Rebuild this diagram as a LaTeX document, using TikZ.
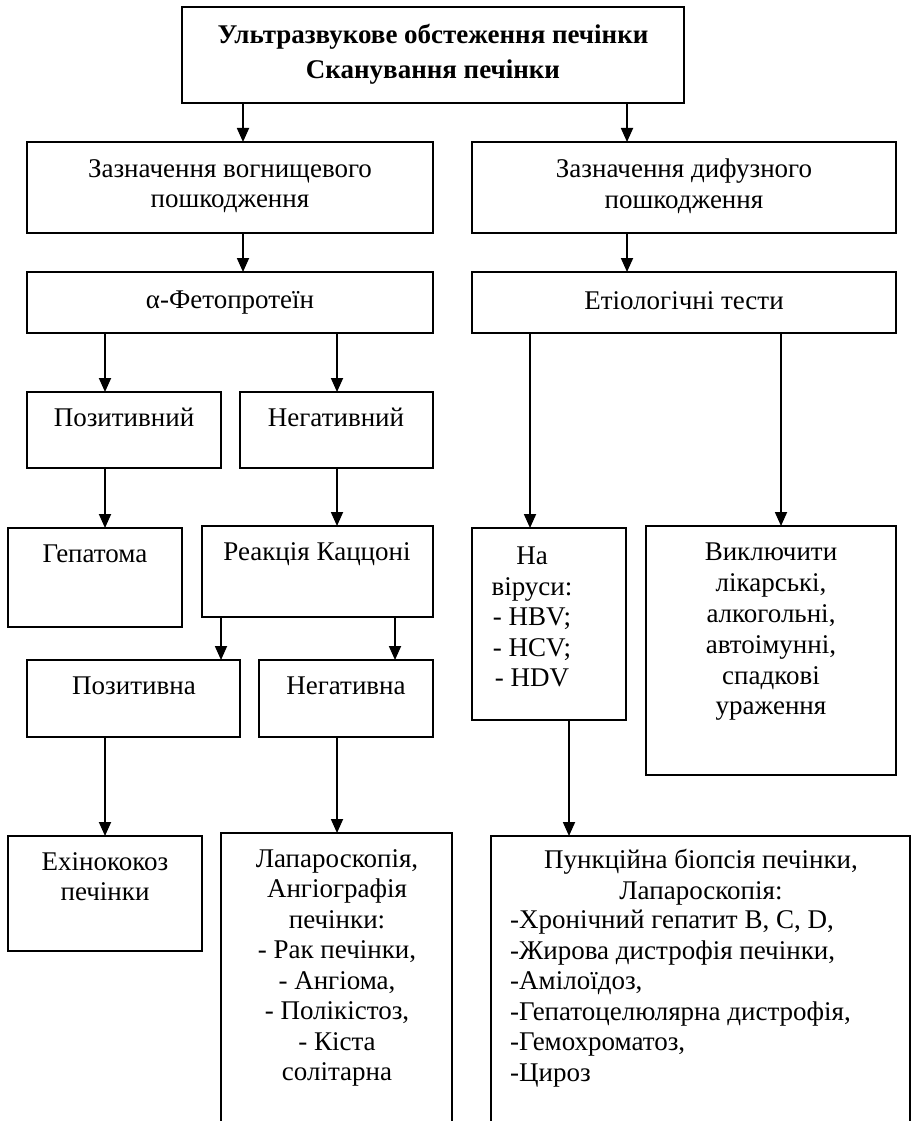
\documentclass[tikz,border=0pt]{standalone}
\usepackage{fontspec}
\setmainfont{Liberation Serif}
\usetikzlibrary{arrows.meta,fit}
\begin{document}
\begin{tikzpicture}[x=1pt,y=-1pt,
  box/.style={draw, line width=1.8pt, inner sep=0pt, outer sep=0pt},
  txt/.style={font=\fontsize{27}{30.5}\selectfont, align=center, inner sep=0pt, anchor=north},
  ltxt/.style={font=\fontsize{27}{30.5}\selectfont, align=left, inner sep=0pt, anchor=north west},
  arr/.style={line width=1.8pt, -{Triangle[length=14pt,width=12pt]}},
  ln/.style={line width=1.8pt}]
\path[use as bounding box, fill=white] (0,0) rectangle (912,1121);
\begin{scope}
\clip (0,0) rectangle (912,1121);

% boxes
\node[box, fit={(182,7) (684,103)}] (top) {};
\node[box, fit={(27,142) (433,233)}] (foc) {};
\node[box, fit={(472,142) (896,233)}] (dif) {};
\node[box, fit={(27,272) (433,333)}] (afp) {};
\node[box, fit={(472,272) (896,333)}] (eti) {};
\node[box, fit={(27,392) (221,468)}] (pos1) {};
\node[box, fit={(240,392) (433,468)}] (neg1) {};
\node[box, fit={(8,528) (182,627)}] (hep) {};
\node[box, fit={(202,526) (433,617)}] (kac) {};
\node[box, fit={(27,660) (240,737)}] (pos2) {};
\node[box, fit={(259,660) (433,737)}] (neg2) {};
\node[box, fit={(472,528) (626,720)}] (vir) {};
\node[box, fit={(646,526) (896,775)}] (excl) {};
\node[box, fit={(8,836) (202,951)}] (ech) {};
% the two lowest boxes run on below the page edge
\node[box, fit={(221,833) (452,1160)}] (lap) {};
\node[box, fit={(491,836) (910,1160)}] (pun) {};

% texts
\node[txt, font=\bfseries\fontsize{27}{35}\selectfont] (top-t) at (433,24)
  {Ультразвукове обстеження печінки\\Сканування печінки};
\node[txt] (foc-t) at (230,159) {Зазначення вогнищевого\\пошкодження};
\node[txt] (dif-t) at (684,159) {Зазначення дифузного\\пошкодження};
\node[txt] (afp-t) at (230,291) {α-Фетопротеїн};
\node[txt] (eti-t) at (684,291) {Етіологічні тести};
\node[txt] (pos1-t) at (124,408) {Позитивний};
\node[txt] (neg1-t) at (336,408) {Негативний};
\node[txt] (hep-t) at (95,545) {Гепатома};
\node[txt] (kac-t) at (317,542) {Реакція Каццоні};
\node[txt] (pos2-t) at (134,677) {Позитивна};
\node[txt] (neg2-t) at (346,677) {Негативна};
\node[txt] (vir-t) at (532,547) {На\\віруси:\\- HBV;\\- HCV;\\- HDV};
\node[txt, font=\fontsize{27}{30.8}\selectfont] (excl-t) at (771,543)
  {Виключити\\лікарські,\\алкогольні,\\автоімунні,\\спадкові\\ураження};
\node[txt] (ech-t) at (105,852) {Ехінококоз\\печінки};
\node[txt] (lap-t) at (337,849)
  {Лапароскопія,\\Ангіографія\\печінки:\\- Рак печінки,\\- Ангіома,\\- Полікістоз,\\- Кіста\\солітарна};
\node[txt] (pun-t) at (701,849) {Пункційна біопсія печінки,\\Лапароскопія:};
\node[ltxt] (pun-l) at (510,910)
  {-Хронічний гепатит B, C, D,\\-Жирова дистрофія печінки,\\-Амілоїдоз,\\-Гепатоцелюлярна дистрофія,\\-Гемохроматоз,\\-Цироз};

% columns of the connectors
\coordinate (c1) at (243,0);
\coordinate (c2) at (627,0);
\coordinate (c3) at (105,0);
\coordinate (c4) at (337,0);
\coordinate (c5) at (530,0);
\coordinate (c6) at (781,0);
\coordinate (c7) at (221,0);
\coordinate (c8) at (395,0);
\coordinate (c9) at (569,0);

% connectors
\draw[arr] (top.south -| c1) -- (foc.north -| c1);
\draw[arr] (top.south -| c2) -- (dif.north -| c2);
\draw[arr] (foc.south -| c1) -- (afp.north -| c1);
\draw[arr] (dif.south -| c2) -- (eti.north -| c2);
\draw[arr] (afp.south -| c3) -- (pos1.north -| c3);
\draw[arr] (afp.south -| c4) -- (neg1.north -| c4);
\draw[arr] (eti.south -| c5) -- (vir.north -| c5);
\draw[arr] (eti.south -| c6) -- (excl.north -| c6);
\draw[arr] (pos1.south -| c3) -- (hep.north -| c3);
\draw[arr] (neg1.south -| c4) -- (kac.north -| c4);
\draw[arr] (kac.south -| c7) -- (pos2.north -| c7);
\draw[arr] (kac.south -| c8) -- (neg2.north -| c8);
\draw[arr] (pos2.south -| c3) -- (ech.north -| c3);
\draw[arr] (neg2.south -| c4) -- (lap.north -| c4);
\draw[arr] (vir.south -| c9) -- (pun.north -| c9);
\end{scope}
\end{tikzpicture}
\end{document}
